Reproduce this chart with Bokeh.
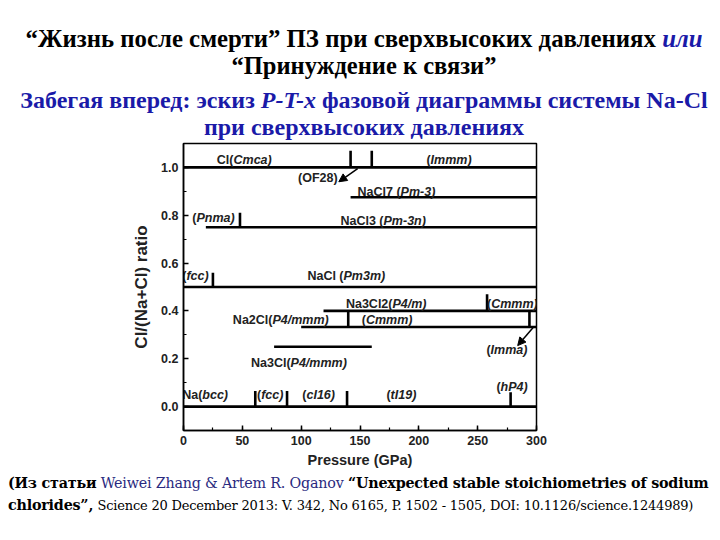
from bokeh.plotting import figure
from bokeh.layouts import column
from bokeh.models import (Div, ColumnDataSource, SingleIntervalTicker, PrintfTickFormatter,
                          Range1d, Arrow, NormalHead)
from bokeh.core.properties import value
from bokeh.embed import file_html
from bokeh.resources import INLINE

# ---- data ----
# phase lines: Cl/(Na+Cl) ratio, pressure start, pressure end (GPa)
line_ratio = [1.0, 0.875, 0.75, 0.5, 0.4, 0.333, 0.25, 0.0]
line_start = [0, 142, 19, 0, 119, 100, 77, 0]
line_end = [300, 300, 300, 300, 300, 300, 160, 300]

# phase transitions: pressure, ratio (bottom), ratio (top of mark)
trans_p = [142, 160, 48, 25, 258, 140, 294, 61, 88, 139, 278]
trans_y0 = [1.0, 1.0, 0.75, 0.5, 0.4, 0.333, 0.333, 0.0, 0.0, 0.0, 0.0]
trans_y1 = [1.07, 1.07, 0.81, 0.56, 0.47, 0.4, 0.4, 0.065, 0.065, 0.065, 0.06]

# arrows (pressure, ratio) from -> to
arrow_p0 = [148, 297]
arrow_r0 = [0.995, 0.33]
arrow_p1 = [132, 284]
arrow_r1 = [0.94, 0.255]

# phase labels: anchor pressure, ratio, upright part, italic part
lab_p = [42.5, 210, 131, 184.5, 11, 170, 2.5, 136, 177.6, 261.5, 75.6, 155, 261, 91, 16, 66, 104.5, 176, 269.5]
lab_r = [1.033, 1.033, 0.955, 0.897, 0.79, 0.775, 0.545, 0.545, 0.43, 0.43, 0.362, 0.362, 0.237, 0.183,
         0.05, 0.05, 0.05, 0.05, 0.08]
lab_up = ["Cl(", "(", "(OF28)", "NaCl7 (", "(", "NaCl3 (", "(", "NaCl (", "Na3Cl2(", "(", "Na2Cl(", "(", "(",
          "Na3Cl(", "Na(", "(", "(", "(", "("]
lab_it = ["Cmca)", "Immm)", "", "Pm-3)", "Pnma)", "Pm-3n)", "fcc)", "Pm3m)", "P4/m)", "Cmmm)", "P4/mmm)",
          "Cmmm)", "Imma)", "P4/mmm)", "bcc)", "fcc)", "cI16)", "tI19)", "hP4)"]

x_label = "Pressure (GPa)"
y_label = "Cl/(Na+Cl) ratio"

title_html = """
<div style="font-family:'Liberation Serif','Times New Roman',serif;font-weight:bold;text-align:center;width:704px;padding-top:17px;padding-left:8px;box-sizing:border-box;white-space:nowrap;">
<div style="font-size:24.8px;line-height:27px;color:#000;">“Жизнь после смерти” ПЗ при сверхвысоких давлениях <i style="color:#1a1aa8;">или</i></div>
<div style="font-size:24.5px;line-height:27px;color:#000;">“Принуждение к связи”</div>
<div style="font-size:24px;line-height:27px;color:#1a1aa8;margin-top:8px;">Забегая вперед: эскиз <i>P-T-x</i> фазовой диаграммы системы Na-Cl</div>
<div style="font-size:24px;line-height:27px;color:#1a1aa8;">при сверхвысоких давлениях</div>
</div>
"""

bottom_html = """
<div style="font-family:'DejaVu Serif',serif;font-size:14.3px;line-height:22px;color:#000;width:704px;white-space:nowrap;letter-spacing:-0.2px;">
<b>(Из статьи</b> <span style="color:#2a2a80;">Weiwei Zhang &amp; Artem R. Oganov</span> <b>“Unexpected stable stoichiometries of sodium</b><br>
<b>chlorides”,</b> <span style="font-size:13px;">Science 20 December 2013: V. 342, No 6165, P. 1502 - 1505, DOI: 10.1126/science.1244989)</span>
</div>
"""

title_div = Div(text=title_html, width=704, height=132, margin=(0, 0, 0, 0))
bottom_div = Div(text=bottom_html, width=704, height=52, margin=(0, 0, 0, 0))

p = figure(width=704, height=332, output_backend="svg", toolbar_location=None,
           x_range=Range1d(0, 300), y_range=Range1d(-0.1, 1.1),
           min_border_left=175, min_border_right=176, min_border_top=3, min_border_bottom=42,
           margin=(0, 0, 0, 0))
p.xgrid.visible = False
p.ygrid.visible = False
p.outline_line_color = "black"
p.outline_line_width = 1.5
p.background_fill_color = "white"
p.border_fill_color = "white"

p.xaxis.ticker = SingleIntervalTicker(interval=50, num_minor_ticks=2)
p.yaxis.ticker = SingleIntervalTicker(interval=0.2, num_minor_ticks=2)
p.yaxis.formatter = PrintfTickFormatter(format="%.1f")
for ax in (p.xaxis[0], p.yaxis[0]):
    ax.major_tick_in = 5
    ax.major_tick_out = 0
    ax.minor_tick_in = 3
    ax.minor_tick_out = 0
    ax.axis_line_width = 1.5
    ax.major_tick_line_width = 1.5
    ax.minor_tick_line_width = 1.2
    ax.major_label_text_font = "Liberation Sans"
    ax.major_label_text_font_style = "bold"
    ax.major_label_text_font_size = "12.5px"
    ax.major_label_text_color = "#222222"
    ax.axis_label_text_font = "Liberation Sans"
    ax.axis_label_text_font_style = "bold"
    ax.axis_label_text_color = "#222222"
    ax.major_label_standoff = 5
    ax.axis_label_standoff = 4
p.xaxis.axis_label = x_label
p.yaxis.axis_label = y_label
p.xaxis.axis_label_text_font_size = "14.5px"
p.yaxis.axis_label_text_font_size = "17px"
p.yaxis.axis_label_standoff = 7

lines = ColumnDataSource(dict(x0=line_start, x1=line_end, y=line_ratio))
p.segment(x0="x0", y0="y", x1="x1", y1="y", source=lines, line_color="black", line_width=2.6)

trans = ColumnDataSource(dict(x=trans_p, y0=trans_y0, y1=trans_y1))
p.segment(x0="x", y0="y0", x1="x", y1="y1", source=trans, line_color="black", line_width=2.6)

for i in range(len(arrow_p0)):
    p.add_layout(Arrow(end=NormalHead(size=8, fill_color="black", line_color="black"),
                       x_start=arrow_p0[i], y_start=arrow_r0[i], x_end=arrow_p1[i], y_end=arrow_r1[i],
                       line_color="black", line_width=1.5))

labs = ColumnDataSource(dict(x=lab_p, y=lab_r, up=lab_up, it=lab_it))
p.text(x="x", y="y", text="up", source=labs, text_align="right", text_baseline="middle",
       text_font=value("Liberation Sans"), text_font_style="bold", text_font_size="12.5px", text_color="#222222")
p.text(x="x", y="y", text="it", source=labs, text_align="left", text_baseline="middle",
       text_font=value("Liberation Sans"), text_font_style="bold italic", text_font_size="12.5px", text_color="#222222")

layout = column(title_div, p, bottom_div, spacing=0, margin=(8, 8, 8, 8))
open("out.html", "w").write(file_html(layout, INLINE))
